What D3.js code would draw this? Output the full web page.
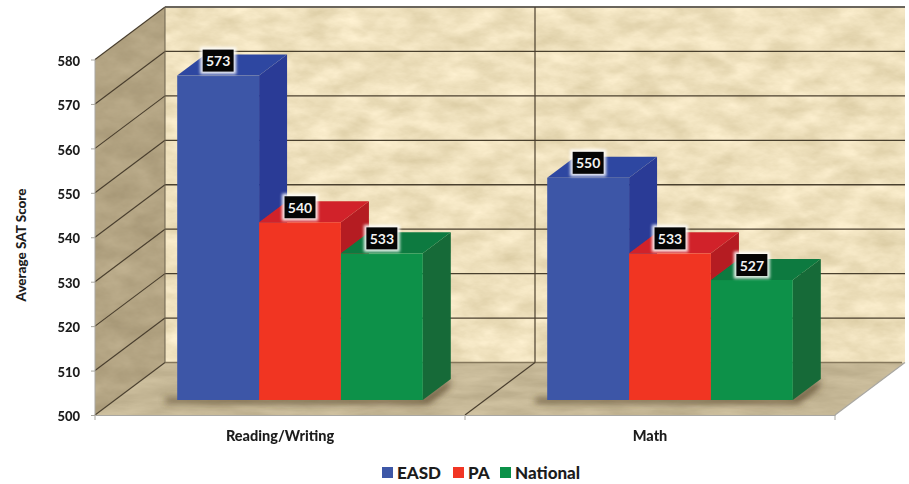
<!DOCTYPE html>
<html><head><meta charset="utf-8">
<script src="https://cdn.jsdelivr.net/npm/d3@7/dist/d3.min.js"></script>
<style>html,body{margin:0;background:#fff}svg{display:block}text{font-family:Lato,"Open Sans",sans-serif;font-weight:900;fill:#1c1c1c}</style>
</head><body><svg id="c" width="909" height="484"></svg>
<script>
const categories = ["Reading/Writing", "Math"];
const seriesNames = ["EASD", "PA", "National"];
const easd = [573, 550];
const pa = [540, 533];
const national = [533, 527];
const yTicks = [500, 510, 520, 530, 540, 550, 560, 570, 580];
const seriesValues = [easd, pa, national];
const palette = {
  EASD: {front: "#3d57a7", side: "#2a3b96", top: "#2f47a1"},
  PA: {front: "#f13524", side: "#b51f24", top: "#d12429"},
  National: {front: "#0a9148", side: "#166a37", top: "#0c7a40"}
};

const svg = d3.select("#c");
const defs = svg.append("defs");
function texture(id, freq, matrix) {
  const f = defs.append("filter").attr("id", id).attr("x", 0).attr("y", 0).attr("width", 1).attr("height", 1).attr("color-interpolation-filters", "sRGB");
  f.append("feTurbulence").attr("type", "fractalNoise").attr("baseFrequency", freq).attr("numOctaves", 5).attr("seed", 7).attr("result", "n");
  f.append("feColorMatrix").attr("in", "n").attr("type", "matrix").attr("values", matrix).attr("result", "c");
  f.append("feComposite").attr("in", "c").attr("in2", "SourceAlpha").attr("operator", "in");
}
texture("wallTex", "0.03 0.06", "0.17 0 0 0 0.85  0.18 0 0 0 0.79  0.22 0 0 0 0.63  0 0 0 0 1");
texture("sideTex", "0.03 0.05", "0.13 0 0 0 0.635  0.13 0 0 0 0.575  0.13 0 0 0 0.445  0 0 0 0 1");
texture("floorTex", "0.02 0.09", "0.13 0 0 0 0.71  0.13 0 0 0 0.655  0.13 0 0 0 0.525  0 0 0 0 1");
defs.append("filter").attr("id", "soft").append("feGaussianBlur").attr("stdDeviation", 0.45);
const sh = defs.append("filter").attr("id", "shadow").attr("x", "-20%").attr("y", "-50%").attr("width", "140%").attr("height", "200%");
sh.append("feGaussianBlur").attr("stdDeviation", 3.5);
const gl = defs.append("filter").attr("id", "glow").attr("x", "-30%").attr("y", "-30%").attr("width", "160%").attr("height", "160%");
gl.append("feGaussianBlur").attr("stdDeviation", 1.6);

// scales
const y = d3.scaleLinear().domain([500, 580]).range([415, 59.5]);
const x0 = d3.scaleBand().domain(categories).range([95, 835]);
const x1 = d3.scaleBand().domain(seriesNames).range([0, x0.bandwidth()]).paddingOuter(0.76).paddingInner(0);
// depth of the box, and of the bars inside it
const depth = {dx: 70, dy: -52.5};
const barOffset = {dx: 20, dy: -15};
const barDepth = {dx: 28, dy: -21};
const [x0a, x0b] = x0.range();
const pts = a => a.map(p => p.join(",")).join(" ");

const scene = svg.append("g").attr("filter", "url(#soft)");

// box
scene.append("polygon").attr("filter", "url(#wallTex)")
  .attr("points", pts([[x0a + depth.dx, y(580) + depth.dy], [x0b + depth.dx, y(580) + depth.dy], [x0b + depth.dx, y(500) + depth.dy], [x0a + depth.dx, y(500) + depth.dy]]));
scene.append("polygon").attr("filter", "url(#sideTex)")
  .attr("points", pts([[x0a, y(580)], [x0a + depth.dx, y(580) + depth.dy], [x0a + depth.dx, y(500) + depth.dy], [x0a, y(500)]]));
scene.append("polygon").attr("filter", "url(#floorTex)")
  .attr("points", pts([[x0a, y(500)], [x0a + depth.dx, y(500) + depth.dy], [x0b + depth.dx, y(500) + depth.dy], [x0b, y(500)]]));

// grid
const grid = "#4a3f2e";
yTicks.forEach(t => {
  const by = y(t) + depth.dy;
  scene.append("line").attr("x1", x0a).attr("y1", y(t)).attr("x2", x0a + depth.dx).attr("y2", by).attr("stroke", grid).attr("stroke-width", 1.2);
  if (t > 500 && t < 580) scene.append("line").attr("x1", x0a + depth.dx).attr("y1", by).attr("x2", x0b + depth.dx).attr("y2", by).attr("stroke", grid).attr("stroke-width", 1.3);
});
scene.append("line").attr("x1", x0a + depth.dx).attr("y1", y(500) + depth.dy).attr("x2", x0b + depth.dx - 3).attr("y2", y(500) + depth.dy).attr("stroke", "#85775c").attr("stroke-width", 1.3);
scene.append("line").attr("x1", x0a + depth.dx).attr("y1", y(580) + depth.dy).attr("x2", x0b + depth.dx).attr("y2", y(580) + depth.dy).attr("stroke", "#6b655c").attr("stroke-width", 1.8);
scene.append("line").attr("x1", x0a + depth.dx).attr("y1", y(580) + depth.dy).attr("x2", x0a + depth.dx).attr("y2", y(500) + depth.dy).attr("stroke", "#6b604c").attr("stroke-width", 1);
// category divider
const midX = x0(categories[1]);
scene.append("line").attr("x1", midX + depth.dx).attr("y1", y(580) + depth.dy).attr("x2", midX + depth.dx).attr("y2", y(500) + depth.dy).attr("stroke", grid).attr("stroke-width", 1.2);
scene.append("line").attr("x1", midX).attr("y1", y(500)).attr("x2", midX + depth.dx).attr("y2", y(500) + depth.dy).attr("stroke", grid).attr("stroke-width", 1.2);
scene.append("line").attr("x1", x0b).attr("y1", y(500)).attr("x2", x0b + depth.dx).attr("y2", y(500) + depth.dy).attr("stroke", "#a9a7a2").attr("stroke-width", 1.2);
scene.append("line").attr("x1", x0a).attr("y1", y(580)).attr("x2", x0a).attr("y2", y(500)).attr("stroke", "#a9a7a2").attr("stroke-width", 1);

// bars
const labels = [];
categories.forEach((cat, ci) => {
  const left = x0(cat) + x1(seriesNames[0]) + barOffset.dx;
  const right = x0(cat) + x1(seriesNames[2]) + x1.bandwidth() + barOffset.dx;
  const base = y(500) + barOffset.dy;
  scene.append("polygon").attr("filter", "url(#shadow)").attr("fill", "#4f3d20").attr("opacity", 0.8)
    .attr("points", pts([[left - 12, base - 2], [right, base - 2], [right + barDepth.dx, base + barDepth.dy], [right + barDepth.dx - 2, base + barDepth.dy + 9], [right + 5, base + 4], [left - 12, base + 3]]));
  seriesNames.forEach((s, si) => {
    const v = seriesValues[si][ci];
    const xL = x0(cat) + x1(s) + barOffset.dx, w = x1.bandwidth();
    const yT = y(v) + barOffset.dy;
    const c = palette[s];
    scene.append("polygon").attr("fill", c.side)
      .attr("points", pts([[xL + w, yT], [xL + w + barDepth.dx, yT + barDepth.dy], [xL + w + barDepth.dx, base + barDepth.dy], [xL + w, base]]));
    scene.append("polygon").attr("fill", c.top)
      .attr("points", pts([[xL, yT], [xL + barDepth.dx, yT + barDepth.dy], [xL + w + barDepth.dx, yT + barDepth.dy], [xL + w, yT]]));
    scene.append("rect").attr("x", xL).attr("y", yT).attr("width", w).attr("height", base - yT).attr("fill", c.front);
    labels.push({v, cx: xL + w / 2, cy: yT - 15});
  });
});

// value labels
const lab = svg.append("g");
labels.forEach(d => {
  const bw = 31, bh = 22;
  lab.append("rect").attr("x", d.cx - bw / 2 - 2.5).attr("y", d.cy - bh / 2 - 2.5).attr("width", bw + 5).attr("height", bh + 5).attr("fill", "#fff").attr("opacity", 0.9).attr("filter", "url(#glow)");
  lab.append("rect").attr("x", d.cx - bw / 2).attr("y", d.cy - bh / 2).attr("width", bw).attr("height", bh).attr("fill", "#050505");
  lab.append("text").attr("x", d.cx).attr("y", d.cy + 0.5).attr("dy", "0.36em").attr("text-anchor", "middle").attr("font-size", 14).style("fill", "#f2f2f2").style("font-weight", 700).text(d.v);
});

// axes
const yAxis = svg.append("g").attr("transform", `translate(${x0a},0)`)
  .call(d3.axisLeft(y).tickValues(yTicks).tickSize(4).tickPadding(11).tickFormat(d3.format("d")));
yAxis.select(".domain").remove();
yAxis.selectAll("line").attr("stroke", "#a9a7a2");
yAxis.selectAll("text").attr("font-size", 13).attr("dy", "0.44em");

const xAxis = svg.append("g").attr("transform", `translate(0,${y(500)})`)
  .call(d3.axisBottom(x0).tickSize(0).tickPadding(16));
xAxis.select(".domain").attr("stroke", "#a9a7a2").attr("stroke-width", 1.2);
xAxis.selectAll("text").attr("font-size", 14.5);
[...categories.map(c => x0(c)), x0b].forEach(px => {
  xAxis.append("line").attr("x1", px).attr("x2", px).attr("y1", 0).attr("y2", 5).attr("stroke", "#a9a7a2");
});

svg.append("text").attr("transform", "translate(26,245) rotate(-90)").attr("text-anchor", "middle").attr("font-size", 13.5).text("Average SAT Score");

// legend
const legendX = d3.scaleOrdinal().domain(seriesNames).range([382, 453, 500]);
const lg = svg.append("g");
seriesNames.forEach(s => {
  lg.append("rect").attr("x", legendX(s)).attr("y", 467).attr("width", 11).attr("height", 11).attr("fill", palette[s].front);
  lg.append("text").attr("x", legendX(s) + 15).attr("y", 479).attr("font-size", 17).text(s);
});
</script></body></html>
